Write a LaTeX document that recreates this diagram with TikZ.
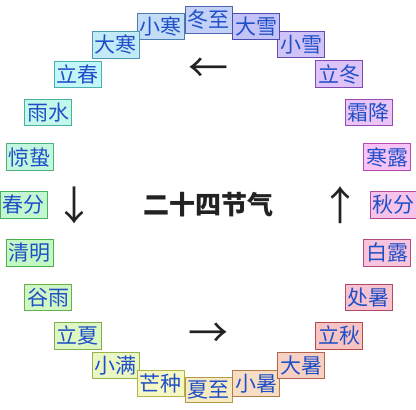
\PassOptionsToPackage{rgb}{xcolor}
\documentclass[tikz,border=0pt]{standalone}
\usepackage{fontspec}
\setmainfont{Noto Sans CJK SC}
\usepackage{xcolor}
\usepackage{tikz}
\usetikzlibrary{positioning}
\definecolor{ink}{HTML}{2050C8}
\definecolor{title}{HTML}{222222}

\begin{document}
\begin{tikzpicture}[x=1pt,y=1pt,
  term/.style={draw,line width=0.9pt,inner xsep=2.5pt,inner ysep=3.5pt,
               font=\fontsize{21}{24}\selectfont,text=ink},
  head/.style={font=\fontsize{26}{30}\selectfont\bfseries,text=title},
  turn/.style={font=\fontsize{40}{42}\selectfont,text=title}]
  \useasboundingbox (0,0) rectangle (416,410);
  \coordinate (o) at (208.5,205);
  \node[head] (name) at (o) {二十四节气};
  % the 24 terms, winter solstice on top, counter-clockwise
  \foreach \term [count=\i from 0] in {冬至,小寒,大寒,立春,雨水,惊蛰,春分,清明,谷雨,立夏,小满,芒种,
                                       夏至,小暑,大暑,立秋,处暑,白露,秋分,寒露,霜降,立冬,小雪,大雪}{
    \pgfmathsetmacro\hue{mod(585-15*\i,360)}
    \definecolor{termfill}{Hsb}{\hue,0.21,0.97}
    \definecolor{termline}{Hsb}{\hue,0.58,0.7}
    \node[term,fill=termfill,draw=termline] (term\i) at ([shift={(90+15*\i:185)}]o) {\term};
  }
  \node[turn] (west) at (208.5,340) {←};
  \node[turn] (south) at (75,205) {↓};
  \node[turn] (east) at (208.5,75) {→};
  \node[turn] (north) at (340,205) {↑};
\end{tikzpicture}
\end{document}
